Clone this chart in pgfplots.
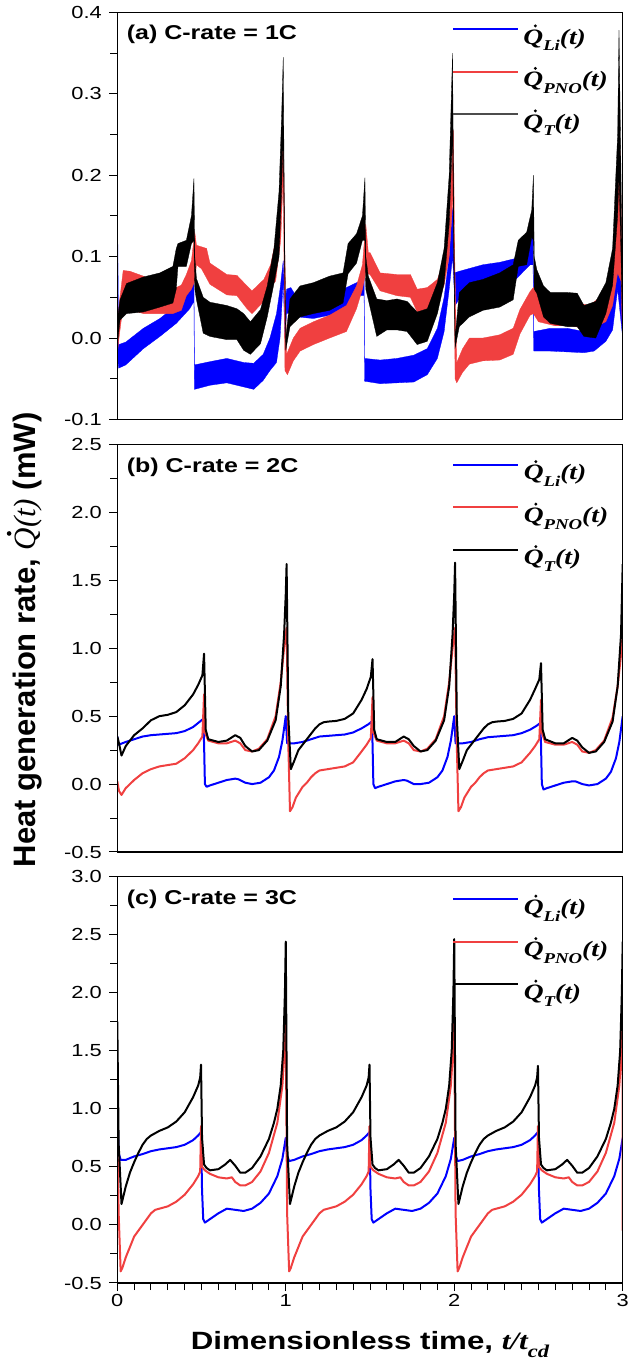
\documentclass[border=0pt]{standalone}
\usepackage{pgfplots}
\pgfplotsset{compat=1.18}
\usepackage{fontspec}
\setmainfont[FakeStretch=1.25]{Liberation Sans}
\newfontfamily\tms[FakeStretch=1.25]{Liberation Serif}
\newfontfamily\sansplain{Liberation Sans}
\newfontfamily\tmsplain{Liberation Serif}
\definecolor{cblue}{RGB}{0,0,255}
\definecolor{cred}{RGB}{240,64,64}
\newcommand\qdot{\makebox[0pt][l]{\kern0.47em\raisebox{0.76em}{\tikz\fill[black] (0,0) circle (0.075em);}}Q}
\newcommand\leg[1]{{\fontsize{22}{24}\selectfont\tms\bfseries\itshape \qdot\raisebox{-0.3em}{\fontsize{15}{16}\selectfont #1}(t)}}
\pgfplotsset{
  panel/.style={
    scale only axis, width=505.4pt, xmin=0, xmax=3,
    minor y tick num=1,
    axis line style={line width=1.2pt},
    every tick/.append style={line width=1pt, black},
    major tick length=8pt, minor tick length=7pt,
    tick align=outside, xtick pos=left, ytick pos=left,
    tick label style={font=\fontsize{17.5}{19}\selectfont},
    yticklabel style={xshift=-4pt},
    legend cell align=left,
    legend image code/.code={\draw[#1] (0pt,9.5pt) -- (65pt,9.5pt);},
    legend style={draw=none, fill=none, inner sep=0pt, outer sep=0pt,
      row sep=15.5pt, column sep=4.5pt,
      nodes={inner sep=0pt, text height=19pt, text depth=8pt}},
  },
  overl/.style={
    scale only axis, width=505.4pt, xmin=0, xmax=3,
    xtick=\empty, ytick=\empty, minor xtick={0,0.1,...,3},
    axis line style={line width=1.2pt},
    every tick/.append style={line width=1pt, black},
    minor tick length=5pt, tick align=inside,
  },
  sm/.style={line width=2pt, line join=round},
}
\begin{document}
\begin{tikzpicture}
\path[use as bounding box] (0pt,0pt) rectangle (632pt,1371pt);
% ---------------- panel (a)
\begin{axis}[panel, at={(117.3pt,951.5pt)}, anchor=south west, height=407.2pt,
  ymin=-0.1, ymax=0.4, ytick={-0.1,0,0.1,0.2,0.3,0.4},
  yticklabels={-0.1,0.0,0.1,0.2,0.3,0.4}, xtick=\empty, minor xtick={0,0.1,...,3},
  legend style={at={(0,1)}, anchor=north west, xshift=335pt, yshift=-13pt}]
\addplot[forget plot, fill=cblue, draw=cblue, line width=0.3pt]
coordinates {(0,0.2)(0.008,-0.008)(0.05,-0.005)(0.155,0.012)(0.253,0.024)(0.35,0.04)(0.43,0.06)(0.455,0.068)(0.458,-0.033)(0.55,-0.029)(0.65,-0.025)(0.75,-0.03)(0.81,-0.031)(0.866,-0.02)(0.906,0.0)(0.945,0.03)(0.966,0.06)(0.985,0.095)(0.995,0.04)(1.005,0.06)(1.03,0.062)(1.065,0.05)(1.164,0.045)(1.26,0.05)(1.36,0.062)(1.44,0.07)(1.465,0.075)(1.468,-0.025)(1.56,-0.027)(1.66,-0.025)(1.76,-0.021)(1.84,-0.013)(1.9,0.012)(1.94,0.05)(1.97,0.1)(1.99,0.16)(2.0,0.08)(2.03,0.082)(2.17,0.09)(2.27,0.093)(2.37,0.098)(2.45,0.122)(2.468,0.125)(2.472,0.008)(2.57,0.012)(2.67,0.012)(2.77,0.008)(2.83,0.012)(2.9,0.028)(2.94,0.05)(2.97,0.12)(2.985,0.12)(3.0,0.03)
(3.0,0.0)(2.97,0.06)(2.94,0.01)(2.9,-0.004)(2.83,-0.016)(2.77,-0.018)(2.67,-0.017)(2.57,-0.016)(2.472,-0.016)(2.468,0.09)(2.45,0.09)(2.37,0.073)(2.27,0.065)(2.17,0.06)(2.03,0.048)(2.005,0.04)(1.99,0.1)(1.97,0.06)(1.94,0.008)(1.9,-0.025)(1.84,-0.045)(1.76,-0.054)(1.66,-0.055)(1.56,-0.056)(1.468,-0.053)(1.465,0.052)(1.44,0.052)(1.36,0.036)(1.26,0.028)(1.164,0.024)(1.065,0.026)(1.03,0.032)(1.005,0.03)(0.995,0.0)(0.985,0.07)(0.966,0.0)(0.945,-0.03)(0.906,-0.04)(0.866,-0.052)(0.81,-0.063)(0.75,-0.06)(0.65,-0.055)(0.55,-0.058)(0.458,-0.063)(0.455,0.045)(0.43,0.036)(0.35,0.018)(0.253,0.002)(0.155,-0.013)(0.05,-0.033)(0.008,-0.037)(0,-0.02)};
\addplot[forget plot, fill=cred, draw=cred, line width=0.3pt]
coordinates {(0,-0.01)(0.01,0.04)(0.035,0.083)(0.075,0.082)(0.155,0.076)(0.253,0.066)(0.33,0.06)(0.38,0.065)(0.41,0.078)(0.44,0.095)(0.46,0.13)(0.47,0.114)(0.53,0.11)(0.55,0.092)(0.65,0.078)(0.71,0.077)(0.77,0.064)(0.8,0.058)(0.87,0.072)(0.91,0.09)(0.94,0.12)(0.97,0.18)(0.985,0.26)(0.995,0.1)(1.005,-0.02)(1.045,0.0)(1.085,0.012)(1.164,0.02)(1.26,0.028)(1.36,0.04)(1.42,0.064)(1.455,0.09)(1.475,0.14)(1.49,0.105)(1.5,0.105)(1.56,0.08)(1.66,0.078)(1.74,0.078)(1.78,0.06)(1.84,0.062)(1.9,0.072)(1.94,0.095)(1.97,0.15)(1.995,0.255)(2.003,0.1)(2.015,-0.03)(2.05,-0.013)(2.09,0.0)(2.17,0.0)(2.27,0.004)(2.35,0.012)(2.39,0.035)(2.45,0.057)(2.47,0.062)(2.5,0.055)(2.6,0.048)(2.7,0.045)(2.8,0.04)(2.9,0.055)(2.94,0.09)(2.97,0.17)(2.985,0.23)(2.995,0.1)(3.0,0.0)
(3.0,-0.01)(2.99,0.07)(2.97,0.08)(2.94,0.04)(2.9,0.02)(2.8,0.01)(2.7,0.015)(2.6,0.015)(2.5,0.02)(2.47,0.03)(2.45,0.028)(2.39,0.005)(2.35,-0.02)(2.27,-0.027)(2.17,-0.028)(2.09,-0.032)(2.05,-0.042)(2.015,-0.055)(2.005,-0.05)(1.995,0.18)(1.97,0.1)(1.94,0.065)(1.9,0.045)(1.84,0.036)(1.78,0.032)(1.74,0.05)(1.66,0.052)(1.56,0.058)(1.5,0.078)(1.475,0.08)(1.455,0.06)(1.42,0.036)(1.36,0.008)(1.26,0.0)(1.164,-0.008)(1.085,-0.016)(1.045,-0.028)(1.01,-0.045)(0.995,-0.04)(0.985,0.2)(0.97,0.12)(0.94,0.07)(0.91,0.062)(0.87,0.045)(0.8,0.03)(0.77,0.036)(0.71,0.052)(0.65,0.053)(0.55,0.066)(0.5,0.085)(0.47,0.09)(0.46,0.07)(0.44,0.06)(0.41,0.052)(0.38,0.034)(0.33,0.03)(0.253,0.03)(0.155,0.03)(0.075,0.035)(0.035,0.04)(0.01,0.0)(0,-0.02)};
\addplot[forget plot, fill=black, draw=black, line width=0.3pt]
coordinates {(0,0.0)(0.005,0.03)(0.016,0.047)(0.055,0.067)(0.155,0.075)(0.253,0.08)(0.33,0.088)(0.35,0.11)(0.36,0.116)(0.41,0.12)(0.44,0.15)(0.455,0.196)(0.46,0.1)(0.47,0.073)(0.51,0.05)(0.55,0.044)(0.65,0.04)(0.71,0.036)(0.75,0.03)(0.79,0.02)(0.85,0.035)(0.89,0.064)(0.93,0.11)(0.96,0.18)(0.975,0.27)(0.985,0.345)(0.992,0.15)(1.0,0.0)(1.025,0.048)(1.085,0.064)(1.164,0.068)(1.26,0.076)(1.34,0.08)(1.37,0.116)(1.42,0.128)(1.455,0.15)(1.47,0.197)(1.475,0.1)(1.49,0.076)(1.54,0.048)(1.6,0.046)(1.66,0.048)(1.72,0.045)(1.78,0.032)(1.84,0.036)(1.9,0.068)(1.94,0.11)(1.97,0.2)(1.99,0.35)(1.997,0.15)(2.005,0.0)(2.03,0.056)(2.09,0.068)(2.17,0.072)(2.27,0.08)(2.35,0.09)(2.38,0.12)(2.43,0.13)(2.46,0.157)(2.47,0.2)(2.475,0.1)(2.49,0.084)(2.53,0.064)(2.57,0.056)(2.67,0.056)(2.73,0.055)(2.77,0.04)(2.84,0.045)(2.9,0.068)(2.94,0.11)(2.97,0.25)(2.978,0.378)(2.99,0.2)(3.0,0.02)
(3.0,0.0)(2.99,0.1)(2.978,0.2)(2.97,0.15)(2.94,0.065)(2.9,0.03)(2.84,0.0)(2.77,0.002)(2.73,0.014)(2.67,0.014)(2.57,0.018)(2.53,0.026)(2.49,0.055)(2.475,0.06)(2.47,0.12)(2.46,0.124)(2.43,0.09)(2.38,0.088)(2.35,0.047)(2.27,0.038)(2.17,0.034)(2.09,0.026)(2.03,0.014)(2.005,-0.012)(1.997,0.1)(1.99,0.25)(1.97,0.14)(1.94,0.067)(1.9,0.03)(1.84,-0.004)(1.78,-0.008)(1.72,0.008)(1.66,0.01)(1.6,0.01)(1.54,0.002)(1.49,0.047)(1.475,0.06)(1.47,0.12)(1.455,0.12)(1.42,0.092)(1.37,0.079)(1.34,0.043)(1.26,0.034)(1.164,0.03)(1.085,0.026)(1.025,0.014)(1.0,-0.015)(0.992,0.1)(0.985,0.25)(0.975,0.18)(0.96,0.1)(0.93,0.067)(0.89,0.026)(0.85,-0.007)(0.79,-0.02)(0.75,-0.015)(0.71,-0.002)(0.65,-0.002)(0.55,0.002)(0.51,0.006)(0.47,0.047)(0.46,0.06)(0.455,0.12)(0.44,0.116)(0.41,0.088)(0.36,0.088)(0.35,0.06)(0.33,0.043)(0.253,0.038)(0.155,0.032)(0.055,0.03)(0.016,0.022)(0.005,0.0)(0,-0.01)};
\addlegendimage{cblue, line width=1.6pt}
\addlegendentry{\leg{Li}}
\addlegendimage{cred, line width=1.6pt}
\addlegendentry{\leg{PNO}}
\addlegendimage{black!70, line width=1.6pt}
\addlegendentry{\leg{T}}
\node[anchor=base west, font=\fontsize{20}{22}\selectfont\bfseries, xshift=6pt, yshift=-27.7pt] at (rel axis cs:0,1) {(a) C-rate = 1C};
\end{axis}
\begin{axis}[overl, at={(117.3pt,951.5pt)}, anchor=south west, height=407.2pt,
  ymin=-0.1, ymax=0.4, minor ytick={-0.1,-0.05,...,0.4}]
\end{axis}
% ---------------- panel (b)
\begin{axis}[panel, at={(117.3pt,519pt)}, anchor=south west, height=407.5pt,
  ymin=-0.5, ymax=2.5, ytick={-0.5,0,0.5,1,1.5,2,2.5},
  yticklabels={-0.5,0.0,0.5,1.0,1.5,2.0,2.5}, xtick=\empty, minor xtick={0,0.1,...,3},
  legend style={at={(0,1)}, anchor=north west, xshift=335pt, yshift=-16.5pt}]
\addplot[sm, cblue] coordinates {(0,0.35)(0.008,0.29)(0.05,0.31)(0.1,0.33)(0.15,0.35)(0.2,0.36)(0.25,0.365)(0.3,0.37)(0.35,0.375)(0.4,0.39)(0.45,0.42)(0.49,0.46)(0.51,0.48)(0.515,0.3)(0.52,0.0)(0.53,-0.02)(0.55,-0.01)(0.6,0.01)(0.65,0.03)(0.7,0.04)(0.72,0.035)(0.76,0.01)(0.8,0.0)(0.85,0.01)(0.9,0.05)(0.93,0.1)(0.96,0.2)(0.98,0.32)(1.0,0.5)(1.008,0.3)(1.05,0.3)(1.1,0.31)(1.15,0.33)(1.2,0.35)(1.25,0.355)(1.3,0.36)(1.35,0.365)(1.4,0.38)(1.45,0.41)(1.49,0.44)(1.51,0.46)(1.515,0.3)(1.52,0.0)(1.53,-0.03)(1.55,-0.02)(1.6,0.0)(1.65,0.02)(1.7,0.03)(1.72,0.025)(1.76,0.0)(1.8,0.0)(1.85,0.01)(1.9,0.05)(1.93,0.1)(1.96,0.2)(1.98,0.32)(2.0,0.5)(2.008,0.3)(2.05,0.3)(2.1,0.31)(2.15,0.33)(2.2,0.345)(2.25,0.35)(2.3,0.355)(2.35,0.36)(2.4,0.375)(2.45,0.4)(2.49,0.43)(2.51,0.45)(2.515,0.3)(2.52,0.0)(2.53,-0.04)(2.55,-0.03)(2.6,-0.01)(2.65,0.01)(2.7,0.02)(2.72,0.02)(2.76,0.0)(2.8,-0.01)(2.85,0.0)(2.9,0.04)(2.93,0.09)(2.96,0.19)(2.98,0.31)(3.0,0.5)};
\addlegendentry{\leg{Li}}
\addplot[sm, cred] coordinates {(0,0.02)(0.01,-0.05)(0.025,-0.08)(0.05,-0.03)(0.1,0.03)(0.15,0.08)(0.2,0.11)(0.25,0.13)(0.3,0.14)(0.35,0.15)(0.4,0.19)(0.45,0.25)(0.48,0.3)(0.505,0.35)(0.515,0.66)(0.52,0.38)(0.54,0.32)(0.6,0.3)(0.65,0.3)(0.7,0.32)(0.73,0.3)(0.76,0.25)(0.8,0.24)(0.84,0.26)(0.89,0.33)(0.94,0.5)(0.97,0.75)(0.99,1.0)(1.005,1.15)(1.015,0.3)(1.025,-0.2)(1.04,-0.17)(1.06,-0.1)(1.08,-0.06)(1.1,-0.02)(1.125,0.01)(1.15,0.05)(1.175,0.08)(1.2,0.1)(1.25,0.11)(1.3,0.12)(1.35,0.13)(1.4,0.16)(1.45,0.24)(1.48,0.29)(1.505,0.34)(1.515,0.64)(1.52,0.38)(1.54,0.32)(1.6,0.3)(1.65,0.3)(1.7,0.32)(1.73,0.3)(1.76,0.25)(1.8,0.24)(1.84,0.26)(1.89,0.33)(1.94,0.5)(1.97,0.75)(1.99,1.0)(2.005,1.15)(2.015,0.3)(2.025,-0.2)(2.04,-0.17)(2.06,-0.1)(2.08,-0.06)(2.1,-0.02)(2.125,0.01)(2.15,0.05)(2.175,0.08)(2.2,0.1)(2.25,0.11)(2.3,0.12)(2.35,0.13)(2.4,0.16)(2.45,0.23)(2.48,0.28)(2.505,0.33)(2.515,0.62)(2.52,0.38)(2.54,0.31)(2.6,0.29)(2.65,0.29)(2.7,0.31)(2.73,0.29)(2.76,0.24)(2.8,0.23)(2.84,0.25)(2.89,0.32)(2.94,0.49)(2.97,0.72)(2.99,0.95)(3.0,1.1)};
\addlegendentry{\leg{PNO}}
\addplot[sm, black] coordinates {(0,0.35)(0.01,0.3)(0.025,0.21)(0.05,0.28)(0.1,0.36)(0.15,0.41)(0.2,0.47)(0.25,0.5)(0.3,0.51)(0.35,0.53)(0.4,0.58)(0.45,0.66)(0.48,0.73)(0.505,0.8)(0.515,0.96)(0.525,0.4)(0.54,0.33)(0.6,0.31)(0.65,0.32)(0.7,0.36)(0.73,0.34)(0.76,0.28)(0.8,0.24)(0.84,0.25)(0.89,0.32)(0.94,0.47)(0.97,0.72)(0.99,1.1)(1.0,1.4)(1.005,1.62)(1.015,0.5)(1.03,0.11)(1.05,0.17)(1.075,0.25)(1.1,0.29)(1.125,0.33)(1.15,0.37)(1.175,0.41)(1.2,0.44)(1.225,0.455)(1.25,0.46)(1.3,0.465)(1.35,0.48)(1.4,0.52)(1.45,0.62)(1.48,0.7)(1.505,0.79)(1.515,0.92)(1.525,0.4)(1.54,0.33)(1.6,0.31)(1.65,0.31)(1.7,0.35)(1.73,0.33)(1.76,0.28)(1.8,0.24)(1.84,0.25)(1.89,0.32)(1.94,0.47)(1.97,0.72)(1.99,1.1)(2.0,1.4)(2.005,1.63)(2.015,0.5)(2.03,0.11)(2.05,0.17)(2.075,0.25)(2.1,0.29)(2.125,0.33)(2.15,0.37)(2.175,0.41)(2.2,0.44)(2.225,0.455)(2.25,0.46)(2.3,0.465)(2.35,0.48)(2.4,0.52)(2.45,0.62)(2.48,0.7)(2.505,0.77)(2.515,0.89)(2.525,0.4)(2.54,0.33)(2.6,0.3)(2.65,0.3)(2.7,0.34)(2.73,0.32)(2.76,0.27)(2.8,0.23)(2.84,0.24)(2.89,0.31)(2.94,0.46)(2.97,0.72)(2.99,1.1)(3.0,1.62)};
\addlegendentry{\leg{T}}
\node[anchor=base west, font=\fontsize{20}{22}\selectfont\bfseries, xshift=6pt, yshift=-27.7pt] at (rel axis cs:0,1) {(b) C-rate = 2C};
\end{axis}
\begin{axis}[overl, at={(117.3pt,519pt)}, anchor=south west, height=407.5pt,
  ymin=-0.5, ymax=2.5, minor ytick={-0.5,-0.25,...,2.5}]
\end{axis}
% ---------------- panel (c)
\begin{axis}[panel, at={(117.3pt,88pt)}, anchor=south west, height=406.5pt,
  ymin=-0.5, ymax=3.0, ytick={-0.5,0,0.5,1,1.5,2,2.5,3},
  yticklabels={-0.5,0.0,0.5,1.0,1.5,2.0,2.5,3.0},
  xtick={0,1,2,3}, xticklabels={0,1,2,3}, minor x tick num=9,
  legend style={at={(0,1)}, anchor=north west, xshift=335pt, yshift=-19pt}]
\addplot[sm, cblue] coordinates {(0,1.0)(0.008,0.62)(0.02,0.56)(0.05,0.56)(0.1,0.59)(0.15,0.61)(0.2,0.635)(0.25,0.65)(0.3,0.66)(0.35,0.67)(0.4,0.69)(0.45,0.73)(0.48,0.77)(0.497,0.8)(0.503,0.3)(0.51,0.05)(0.52,0.02)(0.55,0.05)(0.6,0.1)(0.65,0.14)(0.7,0.13)(0.75,0.12)(0.8,0.14)(0.85,0.19)(0.9,0.27)(0.95,0.42)(0.98,0.57)(1.0,0.75)(1.008,0.6)(1.02,0.55)(1.05,0.56)(1.1,0.59)(1.15,0.61)(1.2,0.635)(1.25,0.65)(1.3,0.66)(1.35,0.67)(1.4,0.69)(1.45,0.73)(1.48,0.77)(1.497,0.8)(1.503,0.3)(1.51,0.05)(1.52,0.02)(1.55,0.05)(1.6,0.1)(1.65,0.14)(1.7,0.13)(1.75,0.12)(1.8,0.14)(1.85,0.19)(1.9,0.27)(1.95,0.42)(1.98,0.57)(2.0,0.75)(2.008,0.6)(2.02,0.55)(2.05,0.56)(2.1,0.59)(2.15,0.61)(2.2,0.635)(2.25,0.65)(2.3,0.66)(2.35,0.67)(2.4,0.69)(2.45,0.73)(2.48,0.77)(2.497,0.8)(2.503,0.3)(2.51,0.05)(2.52,0.02)(2.55,0.05)(2.6,0.1)(2.65,0.14)(2.7,0.13)(2.75,0.12)(2.8,0.14)(2.85,0.19)(2.9,0.27)(2.95,0.42)(2.98,0.57)(3.0,0.75)};
\addlegendentry{\leg{Li}}
\addplot[sm, cred] coordinates {(0,0.8)(0.008,0.1)(0.02,-0.4)(0.03,-0.37)(0.05,-0.28)(0.075,-0.19)(0.1,-0.1)(0.125,-0.05)(0.15,0.0)(0.175,0.05)(0.2,0.1)(0.225,0.13)(0.25,0.14)(0.3,0.16)(0.35,0.2)(0.4,0.26)(0.45,0.35)(0.48,0.42)(0.492,0.46)(0.497,0.85)(0.503,0.5)(0.52,0.47)(0.55,0.44)(0.6,0.41)(0.65,0.4)(0.68,0.41)(0.7,0.37)(0.73,0.34)(0.76,0.34)(0.8,0.37)(0.85,0.46)(0.9,0.62)(0.95,0.88)(0.98,1.2)(0.995,1.55)(1.0,1.75)(1.008,0.1)(1.02,-0.4)(1.03,-0.37)(1.05,-0.28)(1.075,-0.19)(1.1,-0.1)(1.125,-0.05)(1.15,0.0)(1.175,0.05)(1.2,0.1)(1.225,0.13)(1.25,0.14)(1.3,0.16)(1.35,0.2)(1.4,0.26)(1.45,0.35)(1.48,0.42)(1.492,0.46)(1.497,0.85)(1.503,0.5)(1.52,0.47)(1.55,0.44)(1.6,0.41)(1.65,0.4)(1.68,0.41)(1.7,0.37)(1.73,0.34)(1.76,0.34)(1.8,0.37)(1.85,0.46)(1.9,0.62)(1.95,0.88)(1.98,1.2)(1.995,1.55)(2.0,1.75)(2.008,0.1)(2.02,-0.4)(2.03,-0.37)(2.05,-0.28)(2.075,-0.19)(2.1,-0.1)(2.125,-0.05)(2.15,0.0)(2.175,0.05)(2.2,0.1)(2.225,0.13)(2.25,0.14)(2.3,0.16)(2.35,0.2)(2.4,0.26)(2.45,0.35)(2.48,0.42)(2.492,0.46)(2.497,0.85)(2.503,0.5)(2.52,0.47)(2.55,0.44)(2.6,0.41)(2.65,0.4)(2.68,0.41)(2.7,0.37)(2.73,0.34)(2.76,0.34)(2.8,0.37)(2.85,0.46)(2.9,0.62)(2.95,0.88)(2.98,1.2)(2.995,1.55)(2.999,1.75)(3.0,-0.05)};
\addlegendentry{\leg{PNO}}
\addplot[sm, black] coordinates {(0,1.75)(0.008,0.7)(0.025,0.18)(0.05,0.33)(0.075,0.45)(0.1,0.54)(0.125,0.62)(0.15,0.69)(0.175,0.74)(0.2,0.77)(0.225,0.79)(0.25,0.81)(0.3,0.84)(0.35,0.89)(0.4,0.97)(0.45,1.1)(0.48,1.2)(0.492,1.27)(0.497,1.38)(0.503,0.75)(0.515,0.52)(0.53,0.49)(0.55,0.47)(0.6,0.48)(0.64,0.52)(0.67,0.56)(0.7,0.51)(0.73,0.45)(0.76,0.45)(0.8,0.49)(0.85,0.59)(0.9,0.74)(0.93,0.88)(0.95,1.0)(0.97,1.2)(0.985,1.5)(0.995,2.0)(1.0,2.44)(1.008,0.7)(1.025,0.18)(1.05,0.33)(1.075,0.45)(1.1,0.54)(1.125,0.62)(1.15,0.69)(1.175,0.74)(1.2,0.77)(1.225,0.79)(1.25,0.81)(1.3,0.84)(1.35,0.89)(1.4,0.97)(1.45,1.1)(1.48,1.2)(1.492,1.27)(1.497,1.38)(1.503,0.75)(1.515,0.52)(1.53,0.49)(1.55,0.47)(1.6,0.48)(1.64,0.52)(1.67,0.56)(1.7,0.51)(1.73,0.45)(1.76,0.45)(1.8,0.49)(1.85,0.59)(1.9,0.74)(1.93,0.88)(1.95,1.0)(1.97,1.2)(1.985,1.5)(1.995,2.0)(2.0,2.46)(2.008,0.7)(2.025,0.18)(2.05,0.33)(2.075,0.45)(2.1,0.54)(2.125,0.62)(2.15,0.69)(2.175,0.74)(2.2,0.77)(2.225,0.79)(2.25,0.81)(2.3,0.84)(2.35,0.89)(2.4,0.97)(2.45,1.1)(2.48,1.2)(2.492,1.27)(2.497,1.37)(2.503,0.75)(2.515,0.52)(2.53,0.49)(2.55,0.47)(2.6,0.48)(2.64,0.52)(2.67,0.56)(2.7,0.51)(2.73,0.45)(2.76,0.45)(2.8,0.49)(2.85,0.59)(2.9,0.74)(2.93,0.88)(2.95,1.0)(2.97,1.2)(2.985,1.5)(2.995,2.0)(3.0,2.44)};
\addlegendentry{\leg{T}}
\node[anchor=base west, font=\fontsize{20}{22}\selectfont\bfseries, xshift=6pt, yshift=-28.5pt] at (rel axis cs:0,1) {(c) C-rate = 3C};
\end{axis}
\begin{axis}[overl, at={(117.3pt,88pt)}, anchor=south west, height=406.5pt,
  ymin=-0.5, ymax=3.0, minor ytick={-0.5,-0.25,...,3.0}]
\end{axis}
% axis titles
\node[anchor=base] at (370pt,21pt) {\fontsize{25}{27}\selectfont\bfseries Dimensionless time, {\tms\itshape t/t\raisebox{-0.3em}{\fontsize{18}{18}\selectfont cd}}};
\node[rotate=90, anchor=base] at (35pt,731pt) {\fontsize{31}{32}\selectfont\sansplain\bfseries Heat generation rate, {\tmsplain\mdseries\itshape \qdot(t)} (mW)};
\end{tikzpicture}
\end{document}
